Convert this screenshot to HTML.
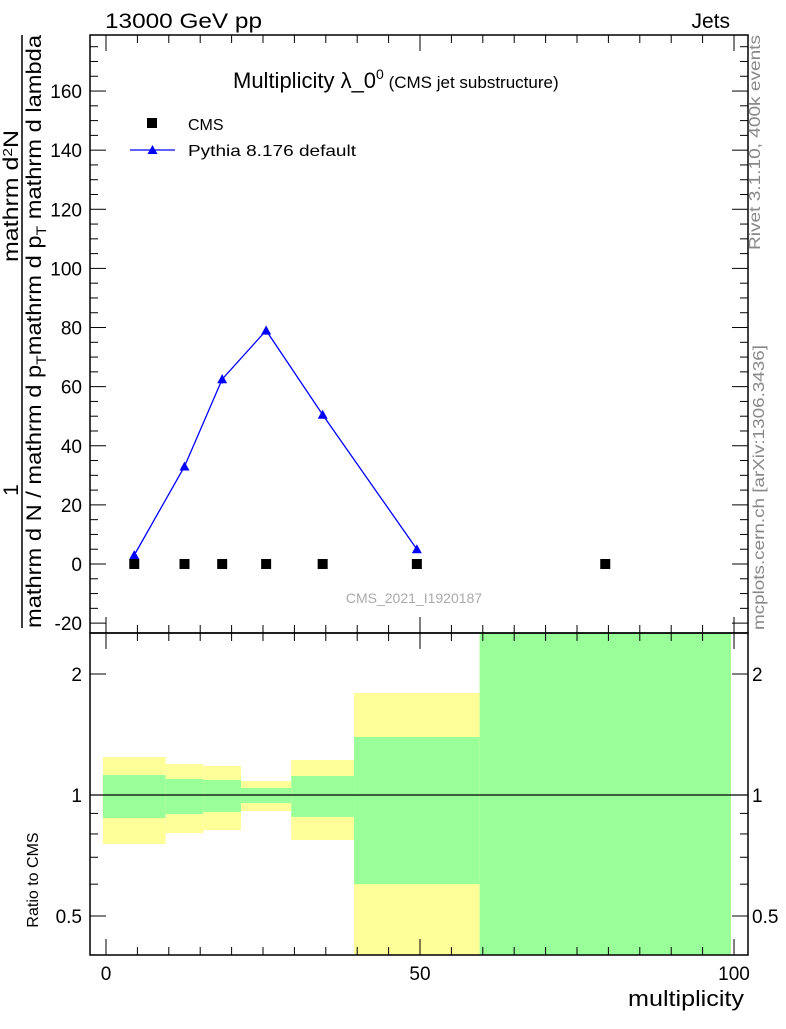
<!DOCTYPE html>
<html><head><meta charset="utf-8"><style>
body{margin:0;background:#fff}
svg{font-family:"Liberation Sans",sans-serif}
</style></head><body>
<svg id="c" width="786" height="1024" xmlns="http://www.w3.org/2000/svg">
<g id="ratio"></g>
<g id="main"></g>
<text x="105" y="28" font-size="21" textLength="157" lengthAdjust="spacingAndGlyphs">13000 GeV pp</text>
<text x="730" y="28" font-size="21" text-anchor="end">Jets</text>
<text x="233" y="88" font-size="22">Multiplicity λ_0<tspan font-size="14" dy="-9">0</tspan><tspan font-size="17" dy="9"> (CMS jet substructure)</tspan></text>
<text x="414" y="603" font-size="14" fill="#aaa" text-anchor="middle">CMS_2021_I1920187</text>
<text transform="translate(760,250) rotate(-90)" font-size="16" fill="#888" textLength="215" lengthAdjust="spacingAndGlyphs">Rivet 3.1.10,  400k events</text>
<text transform="translate(764,630) rotate(-90)" font-size="16" fill="#888" textLength="285" lengthAdjust="spacingAndGlyphs">mcplots.cern.ch [arXiv:1306.3436]</text>
<g font-size="21">
<text transform="translate(18,490) rotate(-90)" text-anchor="middle">1</text>
<line x1="22" y1="628" x2="22" y2="35" stroke="#000" stroke-width="1.5"/>
<text transform="translate(41,628) rotate(-90)" textLength="593" lengthAdjust="spacingAndGlyphs">mathrm d N / mathrm d p<tspan font-size="14" dy="5">T</tspan><tspan dy="-5">mathrm d p</tspan><tspan font-size="14" dy="5">T</tspan><tspan dy="-5"> mathrm d lambda</tspan></text>
<text transform="translate(18,262) rotate(-90)" textLength="132" lengthAdjust="spacingAndGlyphs">mathrm d<tspan font-size="13" dy="-6">2</tspan><tspan dy="6">N</tspan></text>
</g>
<text transform="translate(38,880) rotate(-90)" font-size="16" text-anchor="middle">Ratio to CMS</text>
<text x="744" y="1006" font-size="22" text-anchor="end" textLength="116" lengthAdjust="spacingAndGlyphs">multiplicity</text>
<g>
<rect x="147" y="118" width="10" height="10" fill="#000"/>
<text x="188" y="130" font-size="16">CMS</text>
<line x1="130" y1="150" x2="175" y2="150" stroke="#00f" stroke-width="1.3"/>
<path d="M152.5,145 L157.5,154 L147.5,154Z" fill="#00f"/>
<text x="188" y="156" font-size="16" textLength="168" lengthAdjust="spacingAndGlyphs">Pythia 8.176 default</text>
</g>
</svg>
<script>
const edges=[-0.5,9.5,15.5,21.5,29.5,39.5,59.5,99.5];
const centers=[4.5,12.5,18.5,25.5,34.5,49.5,79.5];
const cmsVals=[0,0,0,0,0,0,0];
const pythiaVals=[3,33,62.5,79,50.5,5];
const pythiaErr=[0.5,1,1.5,1.5,1,0.5];
const yelHi=[1.243,1.194,1.181,1.083,1.222,1.794,5];
const yelLo=[0.755,0.804,0.818,0.912,0.773,0.3,0.1];
const grnHi=[1.121,1.096,1.090,1.041,1.115,1.394,5];
const grnLo=[0.877,0.897,0.907,0.955,0.882,0.600,0.1];
const yTicks=[-20,0,20,40,60,80,100,120,140,160];
const xTicks=[0,50,100];
const rTicks=[0.5,1,2];
const NS="http://www.w3.org/2000/svg";
const L=90,R=748,T=35,MB=633,RB=955;
const X=v=>106+v*6.28;
const Y=v=>564-v*2.956;
const RY=r=>795-121*Math.log2(r);
function mk(t,a,p){const e=document.createElementNS(NS,t);for(const k in a)e.setAttribute(k,a[k]);p.appendChild(e);return e;}
const main=document.getElementById('main'),ratio=document.getElementById('ratio');
const clamp=(y,a,b)=>Math.max(a,Math.min(b,y));
for(let i=0;i<centers.length;i++){
 const x0=X(edges[i]),x1=X(edges[i+1]);
 const yb=mk('rect',{x:x0,y:clamp(RY(yelHi[i]),MB,RB),width:x1-x0,height:clamp(RY(yelLo[i]),MB,RB)-clamp(RY(yelHi[i]),MB,RB),fill:'#ffff99'},ratio);
 
 
 const gb=mk('rect',{x:x0,y:clamp(RY(grnHi[i]),MB,RB),width:x1-x0,height:clamp(RY(grnLo[i]),MB,RB)-clamp(RY(grnHi[i]),MB,RB),fill:'#99ff99'},ratio);
 
 
}
const ul=mk('line',{x1:L,x2:R,y1:RY(1),y2:RY(1),stroke:'#000','stroke-width':1.3},ratio);


mk('rect',{x:L,y:T,width:R-L,height:MB-T,fill:'none',stroke:'#000','stroke-width':1.5},main);
mk('rect',{x:L,y:MB,width:R-L,height:RB-MB,fill:'none',stroke:'#000','stroke-width':1.5},ratio);
for(let v=-20;v<=175;v+=5){const y=Y(v);if(y<T||y>MB)continue;const big=v%20===0;
 mk('line',{x1:L,x2:L+(big?16:8),y1:y,y2:y,stroke:'#000'},main);mk('line',{x1:R,x2:R-(big?16:8),y1:y,y2:y,stroke:'#000'},main);}
yTicks.forEach(v=>{const t=mk('text',{x:82,y:Y(v)+7,'font-size':19,'text-anchor':'end'},main);t.textContent=v;
 
 });
for(let v=0;v<=100;v+=5){const big=v%50===0;const x=X(v);
 [[MB,MB-(big?16:8)],[T,T+(big?16:8)],[RB,RB-(big?16:8)],[MB,MB+(big?16:8)]].forEach(p=>mk('line',{x1:x,x2:x,y1:p[0],y2:p[1],stroke:'#000'},main));}
xTicks.forEach(v=>{const t=mk('text',{x:X(v),y:980,'font-size':19,'text-anchor':'middle'},main);t.textContent=v;
 
 });
[0.4,0.5,0.6,0.7,0.8,0.9,1,2].forEach(r=>{const y=RY(r);const big=rTicks.includes(r);
 mk('line',{x1:L,x2:L+(big?16:8),y1:y,y2:y,stroke:'#000'},ratio);mk('line',{x1:R,x2:R-(big?16:8),y1:y,y2:y,stroke:'#000'},ratio);});
rTicks.forEach(r=>{const s=String(r);
 const a=mk('text',{x:82,y:RY(r)+7,'font-size':19,'text-anchor':'end'},ratio);a.textContent=s;
 
 
 const b=mk('text',{x:752,y:RY(r)+7,'font-size':19},ratio);b.textContent=s;
 
 });
const pl=mk('polyline',{points:pythiaVals.map((v,i)=>X(centers[i])+','+Y(v)).join(' '),fill:'none',stroke:'#00f','stroke-width':1.3},main);


pythiaVals.forEach((v,i)=>{const x=X(centers[i]),y=Y(v);
 mk('line',{x1:x,x2:x,y1:Y(v+pythiaErr[i]),y2:Y(v-pythiaErr[i]),stroke:'#00f'},main);
 const p=mk('path',{d:`M${x},${y-5} L${x+5},${y+4} L${x-5},${y+4}Z`,fill:'#00f'},main);
 
 });
cmsVals.forEach((v,i)=>{const r=mk('rect',{x:X(centers[i])-5,y:Y(v)-5,width:10,height:10,fill:'#000'},main);
 
 });
</script>
</body></html>
